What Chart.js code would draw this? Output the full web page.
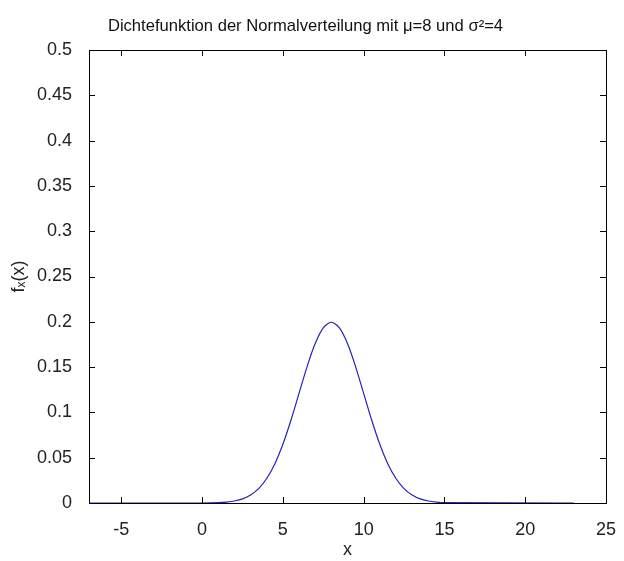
<!DOCTYPE html>
<html>
<head>
<meta charset="utf-8">
<script src="https://cdn.jsdelivr.net/npm/chart.js@4.4.1/dist/chart.umd.min.js"></script>
<style>
  html, body { margin: 0; padding: 0; background: #fff; }
  #wrap { width: 624px; height: 561px; }
</style>
</head>
<body>
<div id="wrap"><canvas id="chart" width="624" height="561"></canvas></div>
<script>
// x positions and density values
const xValues = [-7, 0, 1, 1.5, 2, 2.5, 3, 3.5, 4, 4.5, 5, 5.5, 6, 6.5, 7, 7.5, 8,
  8.5, 9, 9.5, 10, 10.5, 11, 11.5, 12, 12.5, 13, 13.5, 14, 14.5, 15, 23];
const densities = [0, 0, 0.0004, 0.001, 0.0022, 0.0045, 0.0088, 0.0159, 0.027, 0.0431, 0.0648, 0.0913, 0.121, 0.1506, 0.176, 0.1933, 0.1995,
  0.1933, 0.176, 0.1506, 0.121, 0.0913, 0.0648, 0.0431, 0.027, 0.0159, 0.0088, 0.0045, 0.0022, 0.001, 0.0004, 0];
const xTicks = [-5, 0, 5, 10, 15, 20, 25];
const yTicks = [0, 0.05, 0.1, 0.15, 0.2, 0.25, 0.3, 0.35, 0.4, 0.45, 0.5];

const font = "'Liberation Sans', Arial, sans-serif";

// matlab style box with inward ticks
const boxTicks = {
  id: 'boxTicks',
  afterDraw(chart) {
    const { ctx, chartArea: a, scales } = chart;
    const len = 6;
    ctx.save();
    ctx.strokeStyle = '#000';
    ctx.lineWidth = 1;
    ctx.strokeRect(Math.round(a.left) + 0.5, Math.round(a.top) + 0.5,
      Math.round(a.right - a.left), Math.round(a.bottom - a.top));
    ctx.beginPath();
    xTicks.forEach(v => {
      const px = Math.round(scales.x.getPixelForValue(v)) + 0.5;
      ctx.moveTo(px, a.bottom); ctx.lineTo(px, a.bottom - len);
      ctx.moveTo(px, a.top); ctx.lineTo(px, a.top + len);
    });
    yTicks.forEach(v => {
      const py = Math.round(scales.y.getPixelForValue(v)) + 0.5;
      ctx.moveTo(a.left, py); ctx.lineTo(a.left + len, py);
      ctx.moveTo(a.right, py); ctx.lineTo(a.right - len, py);
    });
    ctx.stroke();
    ctx.restore();
  }
};

new Chart(document.getElementById('chart'), {
  type: 'line',
  data: {
    datasets: [{
      data: xValues.map((x, i) => ({ x: x, y: densities[i] })),
      borderColor: '#2323b8',
      borderWidth: 1.2,
      pointRadius: 0,
      tension: 0.3,
      fill: false
    }]
  },
  options: {
    responsive: false,
    animation: false,
    layout: { padding: { top: 0, right: 13, left: 0, bottom: 0 } },
    plugins: {
      legend: { display: false },
      tooltip: { enabled: false },
      title: {
        display: true,
        text: 'Dichtefunktion der Normalverteilung mit μ=8 und σ²=4',
        color: '#111',
        font: { family: font, size: 16.6, weight: 'normal', lineHeight: 1.2 },
        padding: { top: 16, bottom: 14.1 }
      }
    },
    scales: {
      x: {
        type: 'linear',
        min: -7,
        max: 25,
        afterBuildTicks: s => { s.ticks = xTicks.map(v => ({ value: v })); },
        afterFit: s => { s.height = 58; },
        grid: { display: false },
        border: { display: false },
        ticks: {
          color: '#222',
          padding: 8,
          maxRotation: 0,
          font: { family: font, size: 18 },
          callback: v => String(v)
        },
        title: {
          display: true,
          text: 'x',
          color: '#222',
          padding: 0,
          font: { family: font, size: 18 }
        }
      },
      y: {
        min: 0,
        max: 0.5,
        afterBuildTicks: s => { s.ticks = yTicks.map(v => ({ value: v })); },
        afterFit: s => { s.width = 89; },
        grid: { display: false },
        border: { display: false },
        ticks: {
          color: '#222',
          padding: 9,
          font: { family: font, size: 18 },
          callback: v => String(v)
        },
        title: {
          display: true,
          text: 'fₓ(x)',
          color: '#222',
          padding: { top: 8, bottom: 0 },
          font: { family: font, size: 18 }
        }
      }
    }
  },
  plugins: [boxTicks]
});
</script>
</body>
</html>
